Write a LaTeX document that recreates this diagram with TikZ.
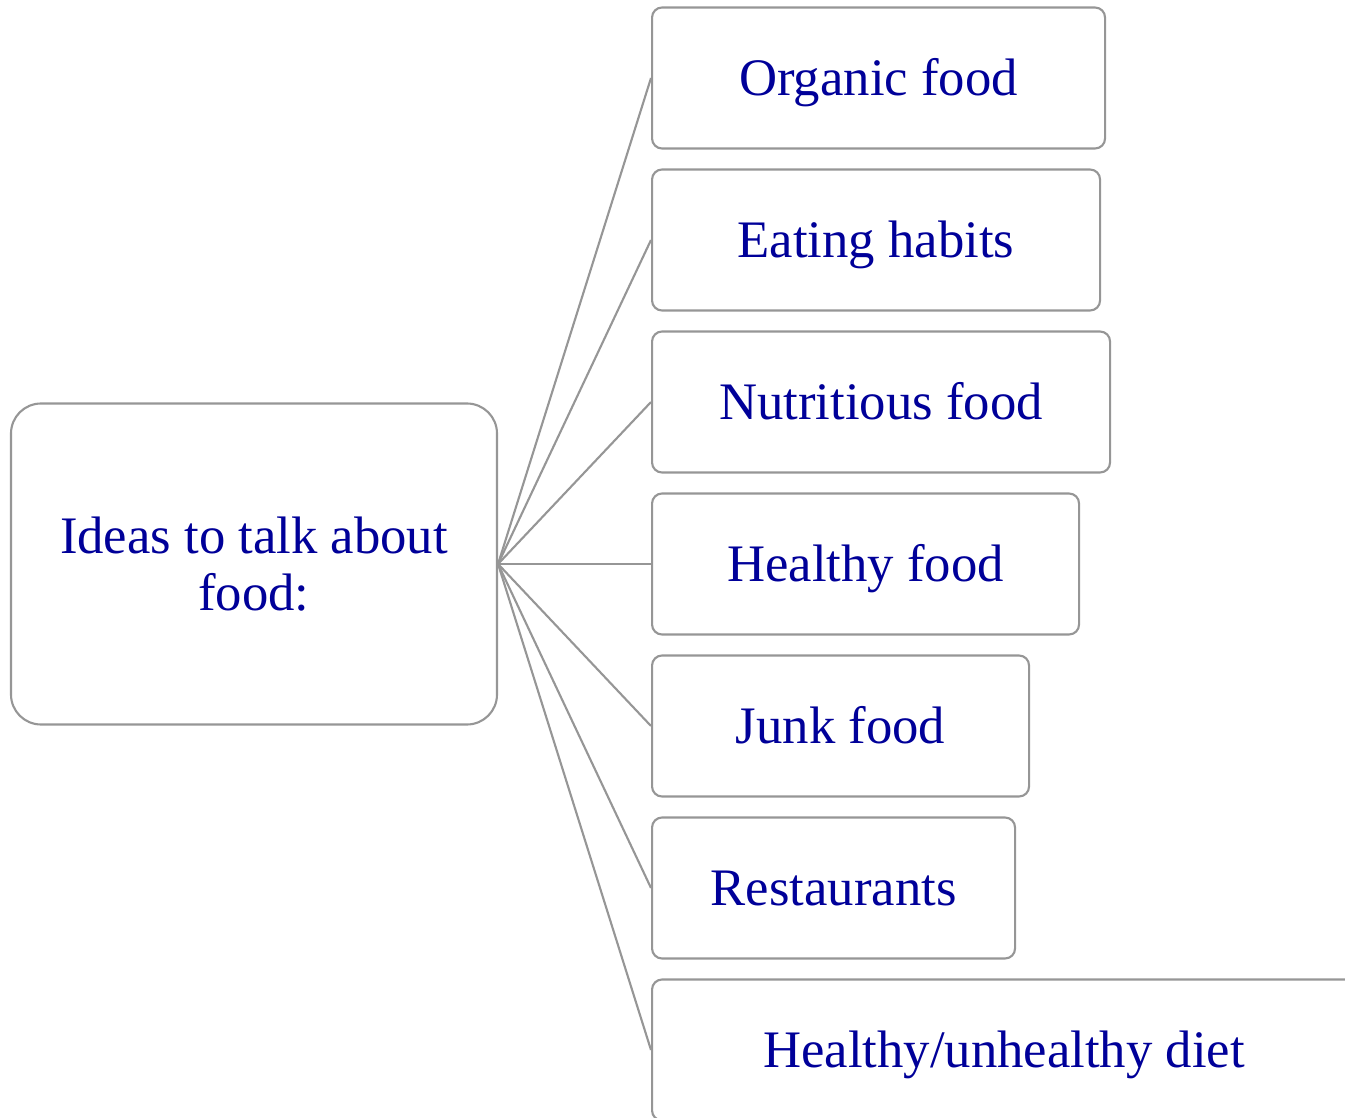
\documentclass[tikz,border=0pt]{standalone}
\usepackage{fontspec}
\setmainfont{Liberation Serif}
\usepackage{tikz}
\usetikzlibrary{positioning}
\definecolor{itemblue}{RGB}{0,0,153}
\definecolor{boxgray}{RGB}{150,150,150}

\begin{document}
\begin{tikzpicture}[x=0.02cm, y=-0.02cm,
    box/.style={draw=boxgray, line width=1.2pt, fill=white, text=itemblue,
                font=\fontsize{30}{32.5}\selectfont},
    link/.style={draw=boxgray, line width=1.2pt}]

    \def\px{0.02cm};
    \useasboundingbox (0,0) rectangle (1345,1118);

    %main idea
    \node[box, rounded corners=30*\px, align=center,
          minimum width=486*\px, minimum height=321*\px] (ideas) at (254,564) {Ideas to talk about\\food:};

    %topics
 \def\dy{162};
    \foreach \i/\w/\txt/\name in {0/453/Organic food/organic,1/448/Eating habits/habits,2/458/Nutritious food/nutritious,
                                  3/427/Healthy food/healthy,4/377/Junk food/junk,5/363/Restaurants/restaurants,
                                  6/704/{Healthy/unhealthy diet}/diet}{
        \node[box, rounded corners=10*\px, anchor=west, minimum width=\w*\px, minimum height=141*\px,
              text height=20pt, text depth=0pt] (\name) at (651, 78 + \i*\dy) {\txt};
        \draw[link] (ideas.east) -- (\name.west);
    }

\end{tikzpicture}
\end{document}
